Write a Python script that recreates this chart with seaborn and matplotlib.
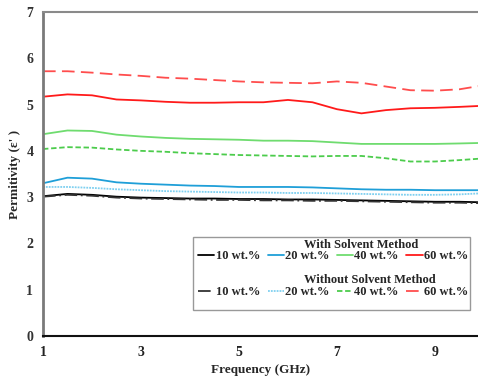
import matplotlib
matplotlib.use("Agg")
import matplotlib.pyplot as plt
from matplotlib.patches import Rectangle
from matplotlib.lines import Line2D
import seaborn as sns
import pandas as pd

freq = [1, 1.5, 2, 2.5, 3, 3.5, 4, 4.5, 5, 5.5, 6, 6.5, 7, 7.5, 8, 8.5, 9, 9.5, 9.9]

w10 = [3.02, 3.07, 3.05, 3.01, 2.99, 2.98, 2.97, 2.97, 2.96, 2.96, 2.95, 2.95, 2.94, 2.93, 2.92, 2.91, 2.90, 2.90, 2.89]
w20 = [3.30, 3.42, 3.40, 3.32, 3.29, 3.27, 3.25, 3.24, 3.22, 3.22, 3.22, 3.21, 3.19, 3.17, 3.16, 3.16, 3.15, 3.15, 3.15]
w40 = [4.36, 4.44, 4.43, 4.35, 4.31, 4.28, 4.26, 4.25, 4.24, 4.22, 4.22, 4.21, 4.18, 4.15, 4.15, 4.15, 4.15, 4.16, 4.17]
w60 = [5.17, 5.22, 5.20, 5.11, 5.09, 5.06, 5.04, 5.04, 5.05, 5.05, 5.10, 5.05, 4.90, 4.81, 4.88, 4.92, 4.93, 4.95, 4.97]

n10 = [3.01, 3.05, 3.03, 2.99, 2.97, 2.96, 2.95, 2.94, 2.94, 2.93, 2.93, 2.92, 2.92, 2.91, 2.90, 2.89, 2.88, 2.88, 2.87]
n20 = [3.22, 3.22, 3.20, 3.17, 3.15, 3.13, 3.12, 3.11, 3.10, 3.10, 3.09, 3.09, 3.08, 3.07, 3.06, 3.05, 3.05, 3.06, 3.08]
n40 = [4.04, 4.08, 4.07, 4.03, 4.00, 3.98, 3.95, 3.93, 3.91, 3.90, 3.89, 3.88, 3.89, 3.89, 3.84, 3.77, 3.77, 3.80, 3.83]
n60 = [5.72, 5.72, 5.69, 5.65, 5.62, 5.58, 5.56, 5.53, 5.50, 5.48, 5.47, 5.46, 5.50, 5.47, 5.39, 5.31, 5.30, 5.33, 5.40]

labels = ["10 wt.%", "20 wt.%", "40 wt.%", "60 wt.%"]
titles = ["With Solvent Method", "Without Solvent Method"]
x_ticks = [1, 3, 5, 7, 9]
y_ticks = [0, 1, 2, 3, 4, 5, 6, 7]

sns.set_style("white")
plt.rcParams['font.family'] = ['Liberation Serif', 'DejaVu Serif']
plt.rcParams['font.weight'] = 'bold'

fig = plt.figure(figsize=(4.78, 3.81), dpi=100)
ax = fig.add_axes([43/478, 1 - 336/381, 1 - 43/478, 324/381])

with_colors = ["#000000", "#1f9fd8", "#6fdc6f", "#ff1a1a"]
without_colors = ["#333333", "#7fd0f0", "#4ccc4c", "#ff4d4d"]
without_styles = [(0, (7, 2, 1, 2)), (0, (1, 0.6)), (0, (3, 1.5)), (0, (7, 3.5))]

with_series = [w10, w20, w40, w60]
without_series = [n10, n20, n40, n60]

h_with, h_without = [], []
for ys, c in zip(with_series, with_colors):
    df = pd.DataFrame({"f": freq, "p": ys})
    sns.lineplot(data=df, x="f", y="p", ax=ax, color=c, lw=1.3)
    h_with.append(Line2D([], [], color=c, lw=1.3))
for ys, c, ls in zip(without_series, without_colors, without_styles):
    df = pd.DataFrame({"f": freq, "p": ys})
    sns.lineplot(data=df, x="f", y="p", ax=ax, color=c, lw=1.3, linestyle=ls)
    h_without.append(Line2D([], [], color=c, lw=1.3, linestyle=ls))

ax.set_xlim(1, 9.88)
ax.set_ylim(0, 7)
ax.set_xticks(x_ticks)
ax.set_yticks(y_ticks)
ax.tick_params(axis='both', direction='out', length=4, width=1, labelsize=10,
               colors='#222222', pad=3)
for lab in ax.get_xticklabels() + ax.get_yticklabels():
    lab.set_fontweight('bold')
ax.set_xlabel("Frequency (GHz)", fontsize=9.5, fontweight='bold', labelpad=4)
ax.set_ylabel("Permitivity (ε' )", fontsize=9.5, fontweight='bold', labelpad=4)

ax.spines['left'].set_color('#7a7a7a')
ax.spines['left'].set_linewidth(2)
ax.spines['bottom'].set_color('#111111')
ax.spines['bottom'].set_linewidth(1.5)
ax.spines['top'].set_color('#8a8a8a')
ax.spines['top'].set_linewidth(1.5)
ax.spines['right'].set_visible(False)
ax.tick_params(axis='y', colors='#333333')

# legend box
box = Rectangle((0.345, 0.080), 0.982 - 0.345, 0.306 - 0.080, transform=ax.transAxes,
                facecolor='white', edgecolor='#999999', lw=1.0, zorder=4)
ax.add_patch(box)

common = dict(ncol=4, frameon=False, handlelength=1.3, handletextpad=0.1,
              columnspacing=0.6, borderpad=0.0, borderaxespad=0,
              prop={'size': 9, 'weight': 'bold'})
leg1 = ax.legend(h_with, labels, loc='center', bbox_to_anchor=(0.667, 0.247), **common)
leg1.set_zorder(5)
ax.add_artist(leg1)
leg2 = ax.legend(h_without, labels, loc='center', bbox_to_anchor=(0.667, 0.136), **common)
leg2.set_zorder(5)

ax.text(0.600, 0.281, titles[0], transform=ax.transAxes, ha='left', va='center',
        fontsize=9, fontweight='bold', zorder=6)
ax.text(0.600, 0.172, titles[1], transform=ax.transAxes, ha='left', va='center',
        fontsize=9, fontweight='bold', zorder=6)

fig.savefig("out.png", dpi=100)
